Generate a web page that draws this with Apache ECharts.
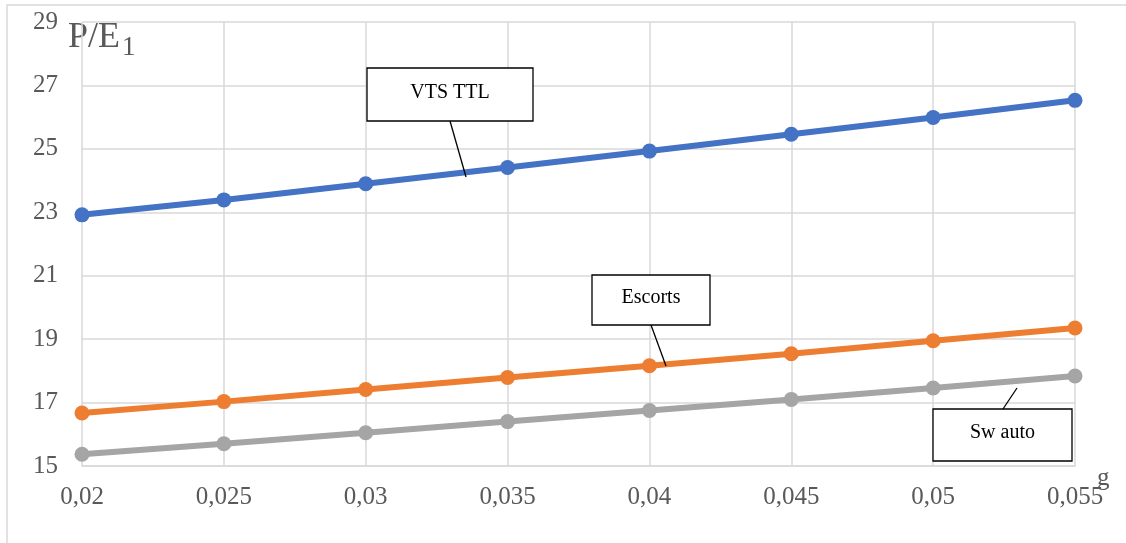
<!DOCTYPE html>
<html>
<head>
<meta charset="utf-8">
<script src="https://cdn.jsdelivr.net/npm/echarts@6/dist/echarts.min.js"></script>
<style>
  html, body { margin: 0; padding: 0; background: #fff; }
  #main { width: 1126px; height: 543px; }
</style>
</head>
<body>
<div id="main"></div>
<script>
// значения по оси g
var gValues = ['0,02', '0,025', '0,03', '0,035', '0,04', '0,045', '0,05', '0,055'];
// P/E1 по сериям
var vtsTtl = [22.92, 23.39, 23.9, 24.41, 24.93, 25.46, 25.99, 26.53];
var escorts = [16.67, 17.03, 17.41, 17.79, 18.16, 18.54, 18.95, 19.35];
var swAuto = [15.37, 15.7, 16.05, 16.4, 16.75, 17.1, 17.46, 17.84];
var seriesNames = ['VTS TTL', 'Escorts', 'Sw auto'];

var textColor = '#595959';
var serif = '"Liberation Serif", "Times New Roman", serif';

var chart = echarts.init(document.getElementById('main'));

function lineSeries(name, data, color) {
	return {
		name: name,
		type: 'line',
		data: data,
		symbol: 'circle',
		symbolSize: 15,
		lineStyle: { color: color, width: 6 },
		itemStyle: { color: color },
		animation: false
	};
}

// подпись-выноска: рамка с текстом и линия к кривой
function callout(text, box, line) {
	return [
		{
			type: 'rect',
			shape: { x: box[0], y: box[1], width: box[2], height: box[3] },
			style: { fill: '#fff', stroke: '#000', lineWidth: 1.3 },
			z: 10
		},
		{
			type: 'text',
			x: box[0] + box[2] / 2,
			y: box[1] + box[3] / 2 - 2,
			style: {
				text: text,
				font: '20px ' + serif,
				fill: '#000',
				align: 'center',
				verticalAlign: 'middle'
			},
			z: 11
		},
		{
			type: 'line',
			shape: { x1: line[0], y1: line[1], x2: line[2], y2: line[3] },
			style: { stroke: '#000', lineWidth: 1.3 },
			z: 10
		}
	];
}

var graphics = [
	{
		type: 'rect',
		shape: { x: 7, y: 5, width: 1140, height: 560 },
		style: { fill: 'none', stroke: '#d9d9d9', lineWidth: 1.5 },
		silent: true
	},
	{
		type: 'text',
		x: 68,
		y: 38,
		style: { text: 'P/E', font: '36px ' + serif, fill: textColor, verticalAlign: 'middle' }
	},
	{
		type: 'text',
		x: 122,
		y: 48,
		style: { text: '1', font: '27px ' + serif, fill: textColor, verticalAlign: 'middle' }
	},
	{
		type: 'text',
		x: 1097,
		y: 478,
		style: { text: 'g', font: '25px ' + serif, fill: textColor, verticalAlign: 'middle' }
	}
]
	.concat(callout(seriesNames[0], [367, 68, 166, 53], [450, 121, 466, 177]))
	.concat(callout(seriesNames[1], [592, 275, 118, 50], [651, 325, 666, 366]))
	.concat(callout(seriesNames[2], [933, 409, 139, 52], [1003, 409, 1017, 388]));

var option = {
	animation: false,
	backgroundColor: '#fff',
	grid: { left: 82, right: 51, top: 22, bottom: 77 },
	xAxis: {
		type: 'category',
		data: gValues,
		boundaryGap: false,
		axisLine: { lineStyle: { color: '#d9d9d9', width: 1.5 } },
		axisTick: { show: false },
		axisLabel: { color: textColor, fontFamily: serif, fontSize: 25, margin: 19 },
		splitLine: { show: true, lineStyle: { color: '#d9d9d9', width: 1.5 } }
	},
	yAxis: {
		type: 'value',
		min: 15,
		max: 29,
		interval: 2,
		axisLine: { show: false },
		axisTick: { show: false },
		axisLabel: { color: textColor, fontFamily: serif, fontSize: 25, margin: 24 },
		splitLine: { lineStyle: { color: '#d9d9d9', width: 1.5 } }
	},
	series: [
		lineSeries(seriesNames[0], vtsTtl, '#4472c4'),
		lineSeries(seriesNames[1], escorts, '#ed7d31'),
		lineSeries(seriesNames[2], swAuto, '#a5a5a5')
	],
	graphic: graphics
};

chart.setOption(option);
</script>
</body>
</html>
